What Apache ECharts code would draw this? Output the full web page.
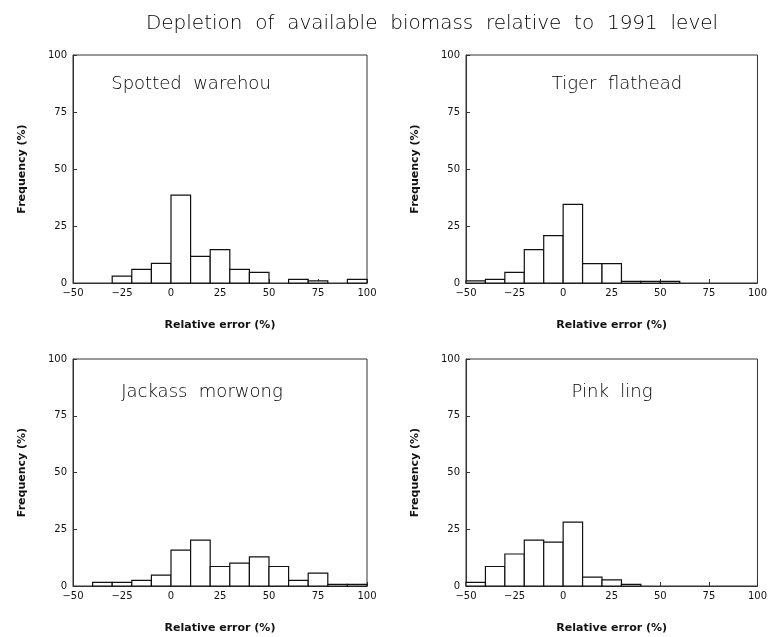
<!DOCTYPE html>
<html>
<head>
<meta charset="utf-8">
<script src="https://cdn.jsdelivr.net/npm/echarts@6/dist/echarts.min.js"></script>
<style>
html,body{margin:0;padding:0;background:#fff;}
#chart{width:770px;height:637px;}
</style>
</head>
<body>
<div id="chart"></div>
<script>
var mainTitle = "Depletion  of  available  biomass  relative  to  1991  level";
var panelNames = ["Spotted  warehou", "Tiger  flathead", "Jackass  morwong", "Pink  ling"];
var xTicks = [-50, -25, 0, 25, 50, 75, 100];
var yTicks = [0, 25, 50, 75, 100];
var binWidth = 10;

var spottedBins = [-30, -20, -10, 0, 10, 20, 30, 40, 60, 70, 90];
var spottedFreq = [3, 6, 8.6, 38.5, 11.7, 14.6, 6, 4.7, 1.6, 0.9, 1.6];

var tigerBins = [-50, -40, -30, -20, -10, 0, 10, 20, 30, 40, 50];
var tigerFreq = [0.9, 1.6, 4.7, 14.6, 20.8, 34.5, 8.5, 8.5, 0.7, 0.7, 0.7];

var jackassBins = [-40, -30, -20, -10, 0, 10, 20, 30, 40, 50, 60, 70, 80, 90];
var jackassFreq = [1.6, 1.6, 2.5, 4.8, 15.8, 20.2, 8.6, 10.1, 12.8, 8.6, 2.5, 5.7, 0.7, 0.7];

var pinkBins = [-50, -40, -30, -20, -10, 0, 10, 20, 30];
var pinkFreq = [1.6, 8.6, 14.1, 20.2, 19.3, 28.1, 3.9, 2.7, 0.7];

var panelBins = [spottedBins, tigerBins, jackassBins, pinkBins];
var panelFreq = [spottedFreq, tigerFreq, jackassFreq, pinkFreq];

var grids = [
  {left: 73, top: 55, width: 294, height: 228},
  {left: 466, top: 55, width: 294, height: 228},
  {left: 73, top: 359, width: 294, height: 227},
  {left: 466, top: 359, width: 294, height: 227}
];
var nameCenters = [
  {x: 186, y: 81}, {x: 612, y: 81}, {x: 197, y: 389}, {x: 607, y: 389}
];

var FONT = "DejaVu Sans";
var chart = echarts.init(document.getElementById('chart'), null, {renderer: 'canvas'});

var option = {
  backgroundColor: '#fff',
  animation: false,
  title: [{
    text: mainTitle, left: 427, top: 9, textAlign: 'center',
    textStyle: {fontFamily: FONT, fontSize: 20, fontWeight: 200, color: '#000'}
  }],
  grid: [], xAxis: [], yAxis: [], series: [], graphic: []
};

for (var i = 0; i < 4; i++) {
  var g = grids[i];
  option.grid.push({left: g.left, top: g.top, width: g.width, height: g.height,
    show: true, borderColor: '#333', borderWidth: 1, backgroundColor: 'transparent'});
  option.xAxis.push({
    type: 'value', gridIndex: i, min: -50, max: 100, interval: 25,
    name: 'Relative error (%)', nameLocation: 'middle', nameGap: 37,
    nameTextStyle: {fontFamily: FONT, fontSize: 11, fontWeight: 'bold', color: '#111'},
    axisLine: {show: true, onZero: false, lineStyle: {color: '#333', width: 1}},
    axisTick: {show: true, inside: true, length: 4, lineStyle: {color: '#333'}},
    axisLabel: {fontFamily: FONT, fontSize: 10, color: '#111', margin: 5,
      formatter: function (v) { return v < 0 ? '\u2212' + Math.abs(v) : String(v); }},
    splitLine: {show: false}
  });
  option.yAxis.push({
    type: 'value', gridIndex: i, min: 0, max: 100, interval: 25,
    name: 'Frequency (%)', nameLocation: 'middle', nameGap: 45,
    nameTextStyle: {fontFamily: FONT, fontSize: 11, fontWeight: 'bold', color: '#111'},
    axisLine: {show: true, onZero: false, lineStyle: {color: '#333', width: 1}},
    axisTick: {show: true, inside: true, length: 4, lineStyle: {color: '#333'}},
    axisLabel: {fontFamily: FONT, fontSize: 10, color: '#111', margin: 6},
    splitLine: {show: false}
  });
  var data = [];
  for (var k = 0; k < panelBins[i].length; k++) data.push([panelBins[i][k], panelFreq[i][k]]);
  option.series.push({
    type: 'custom', xAxisIndex: i, yAxisIndex: i, data: data, silent: true,
    renderItem: function (params, api) {
      var x0 = api.value(0), v = api.value(1);
      var p1 = api.coord([x0, v]);
      var p2 = api.coord([x0 + binWidth, 0]);
      return {
        type: 'rect',
        shape: {x: p1[0], y: p1[1], width: p2[0] - p1[0], height: p2[1] - p1[1]},
        style: {fill: '#fff', stroke: '#111', lineWidth: 1.2}
      };
    }
  });
  option.title.push({
    text: panelNames[i], left: nameCenters[i].x, top: nameCenters[i].y - 11, textAlign: 'center',
    textStyle: {fontFamily: FONT, fontSize: 18, fontWeight: 200, color: '#000'}
  });
}
chart.setOption(option);
</script>
</body>
</html>
